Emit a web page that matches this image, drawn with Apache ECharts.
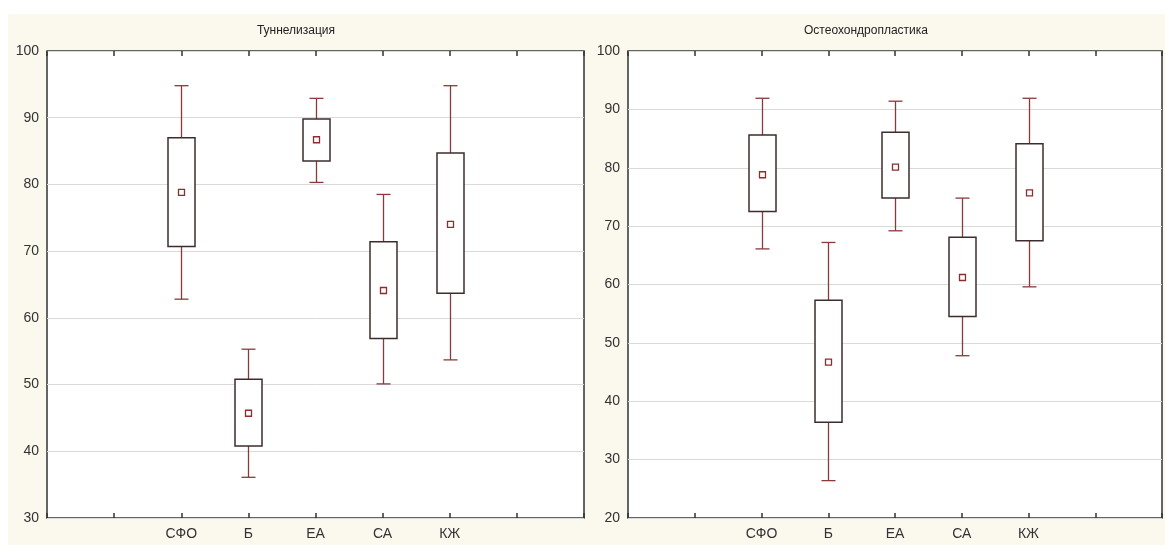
<!DOCTYPE html>
<html>
<head>
<meta charset="utf-8">
<script src="https://cdn.jsdelivr.net/npm/echarts@6/dist/echarts.min.js"></script>
<style>
    html, body { margin: 0; padding: 0; background: #fff; }
    #back { position: absolute; left: 8px; top: 14px; width: 1157px; height: 531px; background: #fbf8ee; }
    #chart { position: absolute; left: 0; top: 0; width: 1165px; height: 545px; }
</style>
</head>
<body>
<div id="back"></div>
<div id="chart"></div>
<script>
// groups on the x axis (two empty slots on each side, like the original)
const groups = ['СФО', 'Б', 'ЕА', 'СА', 'КЖ'];
const titles = ['Туннелизация', 'Остеохондропластика'];

// [whisker low, box low, mean, box high, whisker high]
const tunnel = [
    [62.8, 70.7, 78.8, 87.0, 94.8],
    [36.1, 40.8, 45.7, 50.8, 55.3],
    [80.3, 83.5, 86.7, 89.8, 92.9],
    [50.1, 56.9, 64.1, 71.4, 78.5],
    [53.7, 63.7, 74.0, 84.7, 94.8]
];
const osteo = [
    [66.1, 72.5, 78.8, 85.6, 91.9],
    [26.4, 36.4, 46.7, 57.3, 67.2],
    [69.2, 74.8, 80.1, 86.1, 91.4],
    [47.8, 54.5, 61.2, 68.1, 74.8],
    [59.6, 67.5, 75.7, 84.1, 91.9]
];

const yRanges = [[30, 100], [20, 100]];

const axisCats = ['', ''].concat(groups, ['', '']);
const font = '"Liberation Sans", Arial, sans-serif';

const renderBox = (params, api) => {
    const x = api.value(0);
    const lo = api.coord([x, api.value(1)]);
    const q1 = api.coord([x, api.value(2)]);
    const mean = api.coord([x, api.value(3)]);
    const q3 = api.coord([x, api.value(4)]);
    const hi = api.coord([x, api.value(5)]);
    const cx = Math.round(lo[0]) + 0.5;
    const boxW = 27, capW = 14, m = 6;
    const whisker = { stroke: '#8a3a3a', lineWidth: 1.3 };
    return {
        type: 'group',
        children: [
            { type: 'line', shape: { x1: cx, y1: hi[1], x2: cx, y2: q3[1] }, style: whisker },
            { type: 'line', shape: { x1: cx, y1: q1[1], x2: cx, y2: lo[1] }, style: whisker },
            { type: 'line', shape: { x1: cx - capW / 2, y1: hi[1], x2: cx + capW / 2, y2: hi[1] }, style: whisker },
            { type: 'line', shape: { x1: cx - capW / 2, y1: lo[1], x2: cx + capW / 2, y2: lo[1] }, style: whisker },
            {
                type: 'rect',
                shape: { x: cx - boxW / 2, y: q3[1], width: boxW, height: q1[1] - q3[1] },
                style: { fill: '#fff', stroke: '#3e2c2c', lineWidth: 1.5 }
            },
            {
                type: 'rect',
                shape: { x: cx - m / 2, y: mean[1] - m / 2, width: m, height: m },
                style: { fill: '#fff', stroke: '#8a2e2e', lineWidth: 1.3 }
            }
        ]
    };
};

const panels = [tunnel, osteo];
const grids = [
    { left: 47, top: 51, width: 537, height: 467 },
    { left: 628, top: 51, width: 535, height: 467 }
];

const option = {
    animation: false,
    grid: grids.map(g => Object.assign({
        show: true, backgroundColor: '#fff', borderColor: '#333', borderWidth: 1.5
    }, g)),
    graphic: [
        { type: 'text', x: 296, y: 25, style: { text: titles[0], align: 'center', fill: '#222', font: '12px ' + font } },
        { type: 'text', x: 866, y: 25, style: { text: titles[1], align: 'center', fill: '#222', font: '12px ' + font } }
    ],
    xAxis: [],
    yAxis: [],
    series: []
};

panels.forEach((data, i) => {
    // bottom axis with labels, top axis with only ticks
    option.xAxis.push({
        type: 'category', gridIndex: i, data: axisCats, boundaryGap: false,
        axisLine: { show: false },
        axisTick: { inside: true, length: 5, lineStyle: { color: '#333', width: 1.5 } },
        axisLabel: { color: '#333', fontSize: 14, fontFamily: font, margin: 9, interval: 0 },
        splitLine: { show: false }
    });
    option.xAxis.push({
        type: 'category', gridIndex: i, data: axisCats, boundaryGap: false, position: 'top',
        axisLine: { show: false },
        axisTick: { inside: true, length: 5, lineStyle: { color: '#333', width: 1.5 } },
        axisLabel: { show: false }
    });
    option.yAxis.push({
        type: 'value', gridIndex: i, min: yRanges[i][0], max: yRanges[i][1], interval: 10,
        axisLine: { show: false },
        axisTick: { show: false },
        axisLabel: { color: '#333', fontSize: 14, fontFamily: font, margin: 8 },
        splitLine: { lineStyle: { color: '#dadada', width: 1 } }
    });
    option.yAxis.push({
        type: 'value', gridIndex: i, min: yRanges[i][0], max: yRanges[i][1], interval: 10, position: 'right',
        axisLine: { show: false },
        axisTick: { inside: true, length: 5, lineStyle: { color: '#333', width: 1.5 } },
        axisLabel: { show: false },
        splitLine: { show: false }
    });
    option.series.push({
        type: 'custom',
        xAxisIndex: i * 2,
        yAxisIndex: i * 2,
        renderItem: renderBox,
        encode: { x: 0, y: [1, 2, 3, 4, 5] },
        data: data.map((d, k) => [k + 2].concat(d)),
        z: 5
    });
});

const chart = echarts.init(document.getElementById('chart'), null, { renderer: 'canvas' });
chart.setOption(option);
</script>
</body>
</html>
